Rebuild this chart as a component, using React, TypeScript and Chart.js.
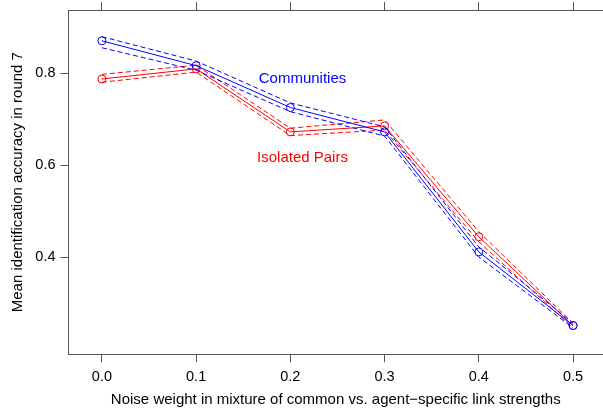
import React, { useEffect, useRef } from "react";
import { Chart, registerables } from "chart.js";

Chart.register(...registerables);

const noiseWeights = [0, 0.1, 0.2, 0.3, 0.4, 0.5];
const communitiesMean = [0.870, 0.816, 0.725, 0.672, 0.411, 0.251];
const communitiesUpper = [0.879, 0.826, 0.735, 0.683, 0.422, 0.256];
const communitiesLower = [0.855, 0.806, 0.716, 0.663, 0.400, 0.246];
const pairsMean = [0.787, 0.809, 0.672, 0.685, 0.444, 0.251];
const pairsUpper = [0.797, 0.817, 0.680, 0.698, 0.455, 0.256];
const pairsLower = [0.780, 0.802, 0.664, 0.676, 0.433, 0.246];

const xTicks = [0, 0.1, 0.2, 0.3, 0.4, 0.5];
const yTicks = [0.4, 0.6, 0.8];

const labelCommunities = { text: "Communities", x: 0.2129, y: 0.787 };
const labelPairs = { text: "Isolated Pairs", x: 0.2129, y: 0.615 };

const BLUE = "#0000FF";
const RED = "#FF0000";
const AXIS = "#555555";
const FONT = "'Liberation Sans', Arial, Helvetica, sans-serif";

const pts = (ys: number[]) => noiseWeights.map((x, i) => ({ x, y: ys[i] }));

const zeroPad = (s: any) => {
  s.paddingLeft = 0;
  s.paddingRight = 0;
  s.paddingTop = 0;
  s.paddingBottom = 0;
};

export default function App() {
  const ref = useRef<HTMLCanvasElement | null>(null);

  useEffect(() => {
    if (!ref.current) return;
    const meanStyle = (color: string) => ({
      borderColor: color,
      borderWidth: 1,
      pointRadius: 4,
      pointStyle: "circle",
      pointBorderColor: color,
      pointBackgroundColor: "rgba(0,0,0,0)",
      pointBorderWidth: 1,
      tension: 0,
      showLine: true,
    });
    const dashStyle = (color: string) => ({
      borderColor: color,
      borderWidth: 1,
      borderDash: [5, 3],
      pointRadius: 0,
      tension: 0,
      showLine: true,
    });

    const annotationPlugin = {
      id: "labels",
      afterDatasetsDraw(chart: any) {
        const { ctx, scales } = chart;
        ctx.save();
        ctx.font = `15px ${FONT}`;
        ctx.textAlign = "center";
        ctx.textBaseline = "middle";
        [
          [labelCommunities, BLUE],
          [labelPairs, RED],
        ].forEach(([l, c]: any) => {
          ctx.fillStyle = c;
          ctx.fillText(l.text, scales.x.getPixelForValue(l.x), scales.y.getPixelForValue(l.y));
        });
        ctx.restore();
      },
    };

    const chart = new Chart(ref.current, {
      type: "line",
      data: {
        datasets: [
          { data: pts(communitiesMean), ...meanStyle(BLUE) },
          { data: pts(communitiesUpper), ...dashStyle(BLUE) },
          { data: pts(communitiesLower), ...dashStyle(BLUE) },
          { data: pts(pairsMean), ...meanStyle(RED) },
          { data: pts(pairsUpper), ...dashStyle(RED) },
          { data: pts(pairsLower), ...dashStyle(RED) },
        ] as any,
      },
      options: {
        animation: false,
        responsive: false,
        devicePixelRatio: 1,
        layout: { padding: 0, autoPadding: false },
        plugins: { legend: { display: false }, tooltip: { enabled: false } },
        scales: {
          x: {
            type: "linear",
            position: "bottom",
            min: -0.03545,
            max: 0.5318,
            afterBuildTicks: (s: any) => {
              s.ticks = xTicks.map((v) => ({ value: v }));
            },
            afterFit: (s: any) => {
              s.height = 56.7;
              zeroPad(s);
            },
            ticks: {
              callback: (v: any) => Number(v).toFixed(1),
              color: "#000",
              font: { family: FONT, size: 14.5 },
              padding: 6,
              maxRotation: 0,
              autoSkip: false,
            },
            grid: { display: true, drawOnChartArea: false, drawTicks: true, tickLength: 8, color: AXIS, lineWidth: 1 },
            border: { display: true, color: AXIS, width: 1 },
            title: {
              display: true,
              text: "Noise weight in mixture of common vs. agent\u2212specific link strengths",
              color: "#000",
              font: { family: FONT, size: 15 },
              padding: { top: 0, bottom: 2 },
            },
          },
          x2: {
            type: "linear",
            position: "top",
            min: -0.03545,
            max: 0.5318,
            afterBuildTicks: (s: any) => {
              s.ticks = xTicks.map((v) => ({ value: v }));
            },
            afterFit: (s: any) => {
              s.height = 10;
              zeroPad(s);
            },
            ticks: { display: false },
            grid: { display: true, drawOnChartArea: false, drawTicks: true, tickLength: 8, color: AXIS, lineWidth: 1 },
            border: { display: true, color: AXIS, width: 1 },
          },
          y: {
            type: "linear",
            position: "left",
            min: 0.1885,
            max: 0.937,
            afterBuildTicks: (s: any) => {
              s.ticks = yTicks.map((v) => ({ value: v }));
            },
            afterFit: (s: any) => {
              s.width = 68.5;
              zeroPad(s);
            },
            ticks: {
              callback: (v: any) => Number(v).toFixed(1),
              color: "#000",
              font: { family: FONT, size: 14.5 },
              padding: 5,
            },
            grid: { display: true, drawOnChartArea: false, drawTicks: true, tickLength: 8, color: AXIS, lineWidth: 1 },
            border: { display: true, color: AXIS, width: 1 },
            title: {
              display: true,
              text: "Mean identification accuracy in round 7",
              color: "#000",
              font: { family: FONT, size: 15 },
              padding: { top: 9, bottom: 0 },
            },
          },
        },
      } as any,
      plugins: [annotationPlugin],
    });
    return () => chart.destroy();
  }, []);

  return (
    <div style={{ position: "absolute", left: 0, top: 0, width: 603, height: 411, background: "#fff" }}>
      <canvas ref={ref} width={603} height={411} style={{ width: 603, height: 411, display: "block" }} />
    </div>
  );
}
